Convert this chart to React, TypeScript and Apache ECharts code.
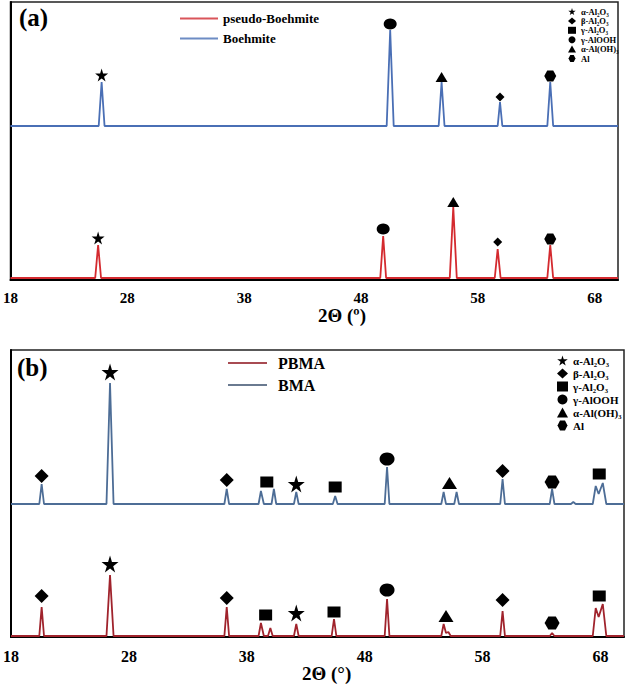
import React, { useEffect, useRef } from 'react';
import * as echarts from 'echarts';

const X_MIN = 18;
const X_MAX = 70;
const X_TICKS = [18, 28, 38, 48, 58, 68];

const PHASES = ['α-Al₂O₃', 'β-Al₂O₃', 'γ-Al₂O₃', 'γ-AlOOH', 'α-Al(OH)₃', 'Al'];

// Panel (a) curves: vertices [2θ, intensity a.u.]
const pseudoBoehmite: number[][] = [
  [18, 2], [25.25, 2], [25.5, 35], [25.75, 2], [49.65, 2], [49.9, 44], [50.15, 2],
  [55.6, 2], [55.9, 73], [56.2, 2], [59.45, 2], [59.7, 31], [59.95, 2],
  [63.95, 2], [64.2, 35], [64.45, 2], [70, 2],
];
const boehmite: number[][] = [
  [18, 154], [25.55, 154], [25.8, 198], [26.05, 154], [50.2, 154], [50.5, 250], [50.8, 154],
  [54.65, 154], [54.9, 198], [55.15, 154], [59.7, 154], [59.9, 178], [60.1, 154],
  [63.95, 154], [64.2, 198], [64.45, 154], [70, 154],
];

// Panel (b) curves
const pbma: number[][] = [
  [18, 1], [20.4, 1], [20.6, 30], [20.8, 1], [26.1, 1], [26.4, 62], [26.7, 1],
  [36.1, 1], [36.3, 30], [36.5, 1], [39.0, 1], [39.2, 14], [39.45, 1], [39.8, 1], [40.0, 9], [40.2, 1],
  [42.0, 1], [42.2, 13], [42.4, 1], [45.2, 1], [45.4, 18], [45.6, 1], [49.7, 1], [49.9, 38], [50.1, 1],
  [54.5, 1], [54.7, 13], [54.9, 4], [55.1, 5], [55.3, 1], [59.5, 1], [59.7, 26], [59.9, 1],
  [63.7, 1], [63.9, 4], [64.1, 1], [67.35, 1], [67.6, 29], [67.85, 20], [68.2, 33], [68.5, 1], [70, 1],
];
const bma: number[][] = [
  [18, 133], [20.4, 133], [20.6, 153], [20.8, 133], [26.1, 133], [26.4, 254], [26.7, 133],
  [36.1, 133], [36.3, 148], [36.5, 133], [39.0, 133], [39.2, 146], [39.45, 133], [40.1, 133], [40.3, 148], [40.5, 133],
  [42.0, 133], [42.2, 145], [42.4, 133], [45.3, 133], [45.5, 141], [45.7, 133], [49.7, 133], [49.9, 170], [50.1, 133],
  [54.5, 133], [54.7, 145], [54.9, 133], [55.6, 133], [55.8, 145], [56.0, 133], [59.5, 133], [59.7, 158], [59.9, 133],
  [63.7, 133], [63.9, 148], [64.1, 133], [65.5, 133], [65.7, 135], [65.9, 133],
  [67.35, 133], [67.6, 151], [67.85, 143], [68.2, 154], [68.5, 133], [70, 133],
];

// Phase markers: [2θ, y, phase index]
const markersA: number[][] = [
  [25.8, 205, 0], [50.5, 256, 3], [54.9, 203, 4], [59.9, 183, 1], [64.2, 204, 5],
  [25.5, 42, 0], [49.9, 51, 3], [55.9, 78, 4], [59.7, 38, 1], [64.2, 41, 5],
];
const markersB: number[][] = [
  [20.6, 161, 1], [26.4, 265, 0], [36.3, 157, 1], [39.7, 155, 2], [42.2, 153, 0], [45.5, 150, 2],
  [49.9, 178, 3], [55.2, 154, 4], [59.7, 166, 1], [63.9, 155, 5], [67.9, 163, 2],
  [20.6, 41, 1], [26.4, 73, 0], [36.3, 39, 1], [39.6, 22, 2], [42.2, 24, 0], [45.4, 25, 2],
  [49.9, 47, 3], [54.9, 21, 4], [59.7, 37, 1], [63.9, 14, 5], [67.9, 41, 2],
];

const STAR = 'path://M50,0 L61,35 L98,35 L68,57 L79,91 L50,70 L21,91 L32,57 L2,35 L39,35 Z';
const HEX = 'path://M25,0 L75,0 L100,50 L75,100 L25,100 L0,50 Z';
const SYMBOLS = [STAR, 'diamond', 'rect', 'circle', 'triangle', HEX];
const SIZES_A: any[] = [13, 9, 8, [13, 11], [12, 10], [12, 11]];
const SIZES_B: any[] = [17, 14, [13, 11], [15, 13], [15, 12], [15, 13]];

const SERIF = '"Liberation Serif", "Times New Roman", "DejaVu Serif", serif';

function buildOption() {
  const grids = [
    { left: 10, right: 8, top: 2, bottom: 406 },
    { left: 7, right: 2, top: 350, bottom: 49 },
  ].map((g) => ({ ...g, show: true, borderColor: '#222', borderWidth: 1.5, backgroundColor: 'transparent' }));

  const xAxes = [0, 1].map((i) => ({
    type: 'value',
    gridIndex: i,
    min: X_MIN,
    max: X_MAX,
    axisLine: { show: true, lineStyle: { color: '#000', width: 2 } },
    axisTick: { show: false },
    splitLine: { show: false },
    axisLabel: {
      customValues: X_TICKS,
      color: '#000',
      fontWeight: 'bold',
      fontFamily: SERIF,
      fontSize: i === 0 ? 15 : 16,
      margin: i === 0 ? 10 : 11,
    },
  }));

  const yAxes = [278, 287].map((max, i) => ({
    type: 'value',
    gridIndex: i,
    min: 0,
    max,
    axisLine: { show: true, lineStyle: { color: '#000', width: 2 } },
    axisTick: { show: false },
    axisLabel: { show: false },
    splitLine: { show: false },
  }));

  const lineSeries = (name: string, data: number[][], idx: number, color: string) => ({
    type: 'line',
    name,
    xAxisIndex: idx,
    yAxisIndex: idx,
    data,
    symbol: 'none',
    showSymbol: false,
    lineStyle: { color, width: 1.8 },
    itemStyle: { color },
    z: 3,
  });

  const markerSeries = (markers: number[][], idx: number, sizes: any[]) =>
    PHASES.map((name, p) => ({
      type: 'scatter',
      name,
      xAxisIndex: idx,
      yAxisIndex: idx,
      symbol: SYMBOLS[p],
      symbolSize: sizes[p],
      itemStyle: { color: '#000', opacity: 1 },
      data: markers.filter((m) => m[2] === p).map((m) => [m[0], m[1]]),
      z: 5,
    }));

  const series = [
    lineSeries('pseudo-Boehmite', pseudoBoehmite, 0, '#d42a2f'),
    lineSeries('Boehmite', boehmite, 0, '#4a6fb5'),
    lineSeries('PBMA', pbma, 1, '#a0232c'),
    lineSeries('BMA', bma, 1, '#4d6d96'),
    ...markerSeries(markersA, 0, SIZES_A),
    ...markerSeries(markersB, 1, SIZES_B),
  ];

  const legendText = (size: number) => ({ color: '#000', fontWeight: 'bold', fontFamily: SERIF, fontSize: size });

  const legend = [
    {
      orient: 'vertical', left: 175, top: 7, itemWidth: 38, itemHeight: 2, itemGap: 7,
      selectedMode: false,
      textStyle: legendText(13),
      data: [
        { name: 'pseudo-Boehmite', icon: 'rect', itemStyle: { color: '#d9555a' } },
        { name: 'Boehmite', icon: 'rect', itemStyle: { color: '#6d8cc4' } },
      ],
    },
    {
      orient: 'vertical', left: 223, top: 350, itemWidth: 39, itemHeight: 2, itemGap: 6,
      selectedMode: false,
      textStyle: { ...legendText(16), padding: [0, 0, 0, 6] },
      data: [
        { name: 'PBMA', icon: 'rect', itemStyle: { color: '#a84b52' } },
        { name: 'BMA', icon: 'rect', itemStyle: { color: '#6a7a90' } },
      ],
    },
    {
      orient: 'vertical', left: 563, top: 2, itemWidth: 8, itemHeight: 7, itemGap: 0.4,
      selectedMode: false,
      textStyle: legendText(8.5),
      data: PHASES.map((n, p) => ({ name: n, icon: SYMBOLS[p], itemStyle: { color: '#000', opacity: 1 } })),
    },
    {
      orient: 'vertical', left: 552, top: 350, itemWidth: 11, itemHeight: 10, itemGap: 2,
      selectedMode: false,
      textStyle: legendText(11),
      data: PHASES.map((n, p) => ({ name: n, icon: SYMBOLS[p], itemStyle: { color: '#000', opacity: 1 } })),
    },
  ];

  const graphic = [
    { type: 'text', left: 19, top: 5, style: { text: '(a)', font: `bold 25px ${SERIF}`, fill: '#000' } },
    { type: 'text', left: 17, top: 355, style: { text: '(b)', font: `bold 25px ${SERIF}`, fill: '#000' } },
    { type: 'text', left: 318, top: 306, style: { text: '2Θ (º)', font: `bold 19px ${SERIF}`, fill: '#000' } },
    { type: 'text', left: 302, top: 664, style: { text: '2Θ (°)', font: `bold 19px ${SERIF}`, fill: '#000' } },
  ];

  return {
    animation: false,
    backgroundColor: '#fff',
    grid: grids,
    xAxis: xAxes,
    yAxis: yAxes,
    legend,
    graphic,
    series,
  };
}

export default function App() {
  const ref = useRef<HTMLDivElement>(null);
  useEffect(() => {
    if (!ref.current) return;
    const chart = echarts.init(ref.current, null, { renderer: 'svg' });
    chart.setOption(buildOption() as any);
    return () => chart.dispose();
  }, []);
  return (
    <div
      ref={ref}
      style={{ position: 'absolute', left: 0, top: 0, width: 626, height: 686, background: '#fff' }}
    />
  );
}
